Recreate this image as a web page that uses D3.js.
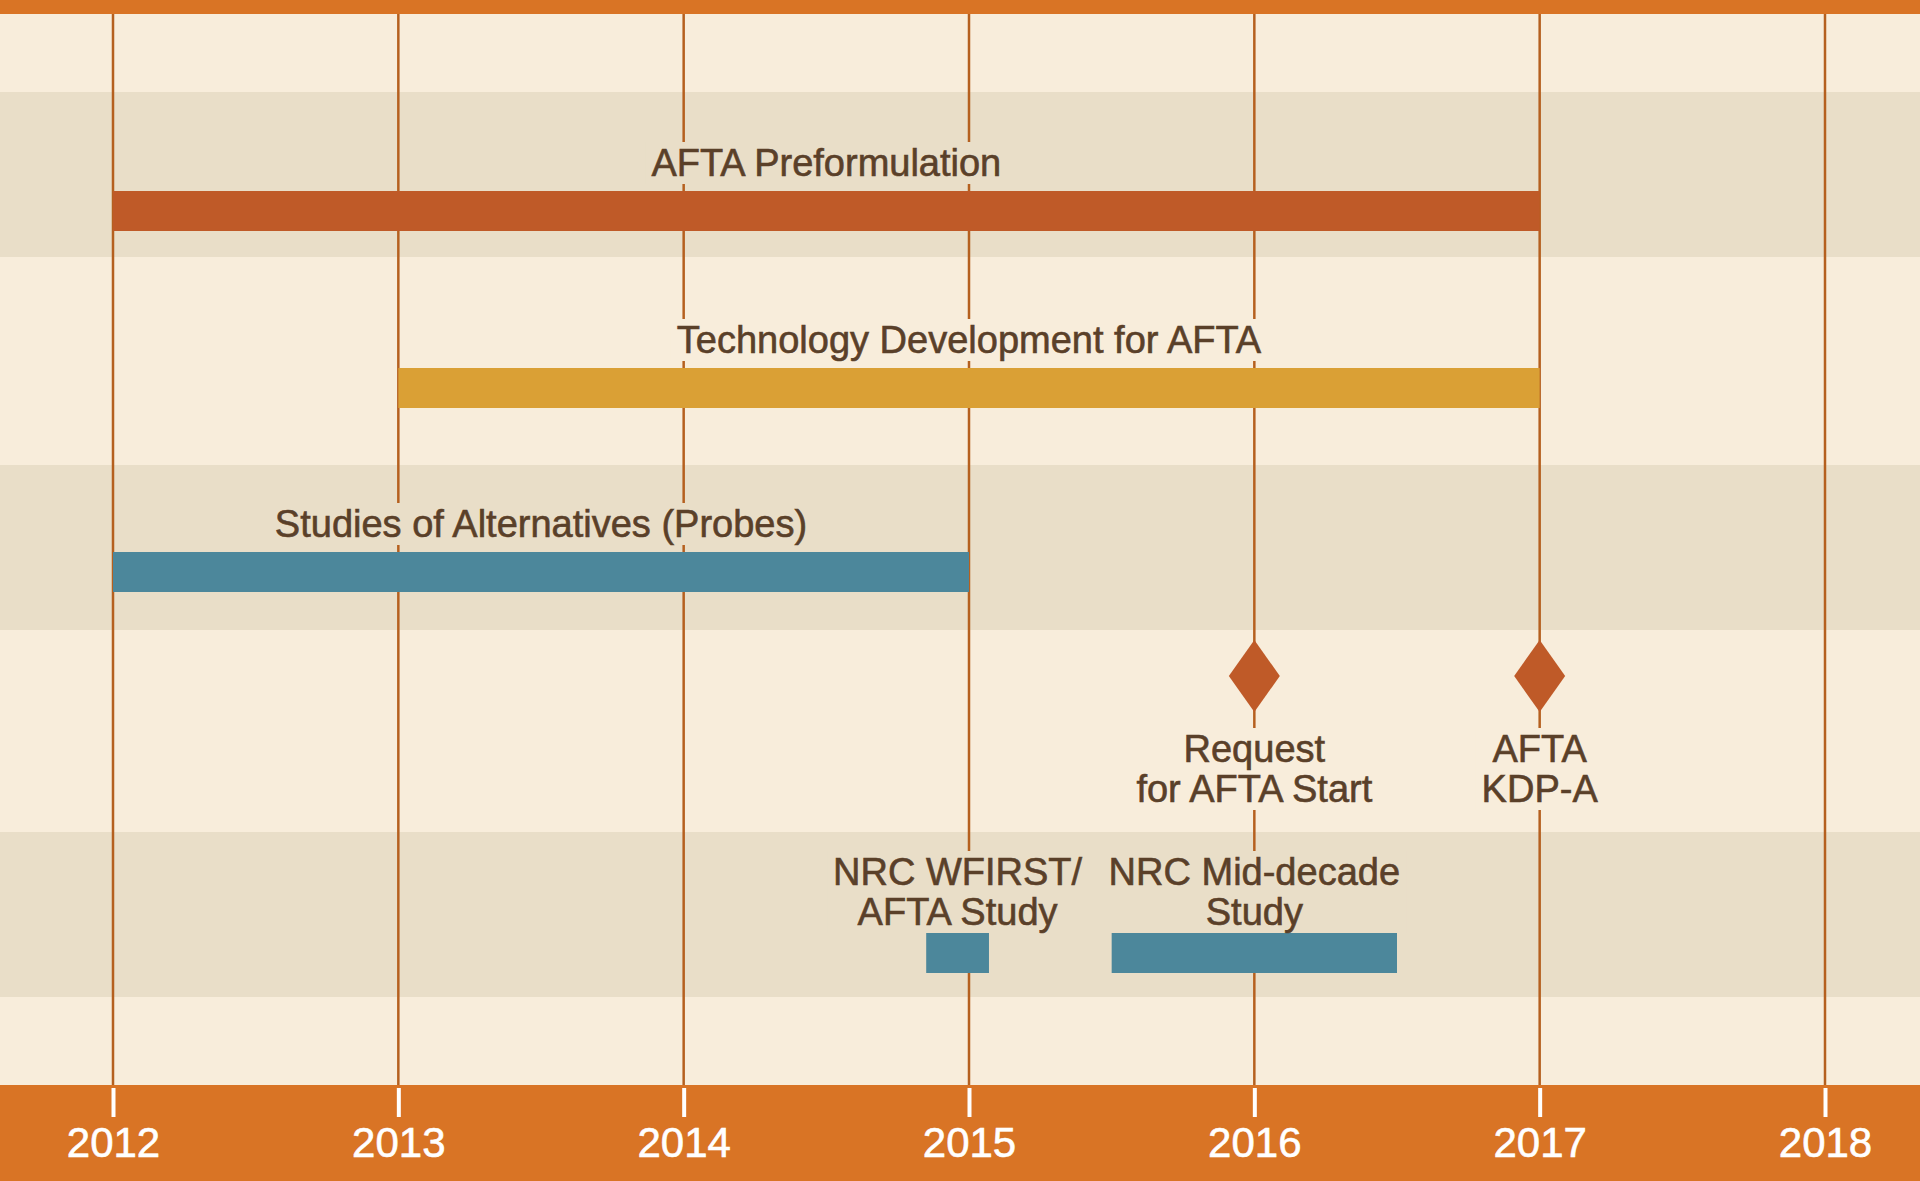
<!DOCTYPE html>
<html>
<head>
<meta charset="utf-8">
<script src="https://cdn.jsdelivr.net/npm/d3@7"></script>
<style>
  html, body { margin: 0; padding: 0; background: #f8eddb; overflow: hidden; }
  svg { display: block; }
  text { font-family: "Liberation Sans", Arial, sans-serif; }
</style>
</head>
<body>
<div id="timeline"></div>
<script>
// Axis years
var years = [2012, 2013, 2014, 2015, 2016, 2017, 2018]

// Activities drawn as bars
var taskNames = [
  ["AFTA Preformulation"],
  ["Technology Development for AFTA"],
  ["Studies of Alternatives (Probes)"],
  ["NRC WFIRST/", "AFTA Study"],
  ["NRC Mid-decade", "Study"],
]
var taskStart = [2012, 2013, 2012, 2014.85, 2015.5]
var taskEnd = [2017, 2017, 2015, 2015.07, 2016.5]
var taskType = ["preformulation", "technology", "study", "study", "study"]
var taskRow = ["preformulation", "technology", "studies", "nrc", "nrc"]

// Milestones drawn as diamonds
var milestoneNames = [["Request", "for AFTA Start"], ["AFTA", "KDP-A"]]
var milestoneYear = [2016, 2017]

/*
 * Timeline - Object constructor function
 * @param _parentElement  -- the HTML element in which to draw the chart
 */
Timeline = function (_parentElement) {
  this.parentElement = _parentElement
  this.initVis()
}

Timeline.prototype.initVis = function () {
  var vis = this

  vis.width = 1920
  vis.height = 1181

  vis.svg = d3
    .select("#" + vis.parentElement)
    .append("svg")
    .attr("width", vis.width)
    .attr("height", vis.height)

  vis.light = "#f8eddb"
  vis.dark = "#e9dec8"
  vis.orange = "#d97425"
  vis.textColor = "#5a4029"

  // horizontal stripes behind everything (top edge, alternating rows, axis strip)
  vis.stripes = [
    { y0: 0, y1: 14, fill: vis.orange },
    { y0: 14, y1: 92, fill: vis.light },
    { y0: 92, y1: 257, fill: vis.dark },
    { y0: 257, y1: 465, fill: vis.light },
    { y0: 465, y1: 630, fill: vis.dark },
    { y0: 630, y1: 832, fill: vis.light },
    { y0: 832, y1: 997, fill: vis.dark },
    { y0: 997, y1: 1085, fill: vis.light },
    { y0: 1085, y1: 1181, fill: vis.orange },
  ]

  vis.x = d3.scaleLinear().domain([2012, 2018]).range([113, 1825])

  // top of the bar in each row
  vis.y = d3
    .scaleOrdinal()
    .domain(["preformulation", "technology", "studies", "milestone", "nrc"])
    .range([191, 368, 552, 676, 933])

  vis.barHeight = 40

  vis.color = d3
    .scaleOrdinal()
    .domain(["preformulation", "technology", "study", "milestone"])
    .range(["#bf5a28", "#daa035", "#4c879b", "#bf5a28"])

  vis.wrangleData()
}

Timeline.prototype.wrangleData = function () {
  var vis = this

  vis.tasks = taskNames.map((name, i) => ({
    lines: name,
    start: taskStart[i],
    end: taskEnd[i],
    type: taskType[i],
    row: taskRow[i],
  }))

  vis.milestones = milestoneNames.map((name, i) => ({
    lines: name,
    year: milestoneYear[i],
  }))

  vis.updateVis()
}

Timeline.prototype.updateVis = function () {
  var vis = this

  // Stripes
  vis.svg
    .selectAll(".stripe")
    .data(vis.stripes)
    .enter()
    .append("rect")
    .attr("class", "stripe")
    .attr("x", 0)
    .attr("width", vis.width)
    .attr("y", (d) => d.y0)
    .attr("height", (d) => d.y1 - d.y0)
    .attr("fill", (d) => d.fill)

  // Year gridlines
  vis.svg
    .selectAll(".grid")
    .data(years)
    .enter()
    .append("line")
    .attr("class", "grid")
    .attr("x1", (d) => vis.x(d))
    .attr("x2", (d) => vis.x(d))
    .attr("y1", 14)
    .attr("y2", 1085)
    .attr("stroke", "#b5601f")
    .attr("stroke-width", 2.5)

  // Layers: label backgrounds cut the gridlines, bars and text sit on top
  var bgLayer = vis.svg.append("g")
  var markLayer = vis.svg.append("g")
  var textLayer = vis.svg.append("g")

  function stripeFill(y) {
    var s = vis.stripes.find((d) => y >= d.y0 && y < d.y1)
    return s ? s.fill : vis.light
  }

  function addLabel(lines, cx, lastBaseline, size, lineGap) {
    var t = textLayer
      .append("text")
      .attr("text-anchor", "middle")
      .attr("fill", vis.textColor)
      .attr("stroke", vis.textColor)
      .attr("stroke-width", 0.6)
      .style("font-size", size + "px")

    var firstBaseline = lastBaseline - (lines.length - 1) * lineGap
    lines.forEach((l, i) => {
      t.append("tspan")
        .attr("x", cx)
        .attr("y", firstBaseline + i * lineGap)
        .text(l)
    })

    var bb = t.node().getBBox()
    bgLayer
      .append("rect")
      .attr("x", bb.x - 6)
      .attr("y", bb.y)
      .attr("width", bb.width + 12)
      .attr("height", bb.height)
      .attr("fill", stripeFill(bb.y + bb.height / 2))
  }

  // Bars
  markLayer
    .selectAll(".bar")
    .data(vis.tasks)
    .enter()
    .append("rect")
    .attr("class", "bar")
    .attr("x", (d) => vis.x(d.start))
    .attr("width", (d) => vis.x(d.end) - vis.x(d.start))
    .attr("y", (d) => vis.y(d.row))
    .attr("height", vis.barHeight)
    .attr("fill", (d) => vis.color(d.type))

  vis.tasks.forEach((d) => {
    var cx = (vis.x(d.start) + vis.x(d.end)) / 2
    var gap = d.lines.length > 1 ? 8 : 15
    addLabel(d.lines, cx, vis.y(d.row) - gap, 38, 40)
  })

  // Milestone diamonds
  var dw = 25.5
  var dh = 36
  markLayer
    .selectAll(".milestone")
    .data(vis.milestones)
    .enter()
    .append("path")
    .attr("class", "milestone")
    .attr("d", (d) => {
      var cx = vis.x(d.year)
      var cy = vis.y("milestone")
      return (
        "M" + cx + "," + (cy - dh) +
        "L" + (cx + dw) + "," + cy +
        "L" + cx + "," + (cy + dh) +
        "L" + (cx - dw) + "," + cy + "Z"
      )
    })
    .attr("fill", vis.color("milestone"))

  vis.milestones.forEach((d) => {
    addLabel(d.lines, vis.x(d.year), vis.y("milestone") + 126, 38, 40)
  })

  // Year axis in the bottom strip
  var axis = d3
    .axisBottom(vis.x)
    .tickValues(years)
    .tickFormat(d3.format("d"))
    .tickSize(29)
    .tickPadding(10)

  var axisG = vis.svg
    .append("g")
    .attr("class", "x-axis")
    .attr("transform", "translate(0,1088)")
    .call(axis)

  axisG.select(".domain").remove()
  axisG.selectAll(".tick line").attr("stroke", "#fff").attr("stroke-width", 4)
  axisG
    .selectAll(".tick text")
    .attr("fill", "#fff")
    .attr("stroke", "#fff")
    .attr("stroke-width", 0.6)
    .style("font-size", "42px")
    .style("font-family", '"Liberation Sans", Arial, sans-serif')
}

new Timeline("timeline")
</script>
</body>
</html>
